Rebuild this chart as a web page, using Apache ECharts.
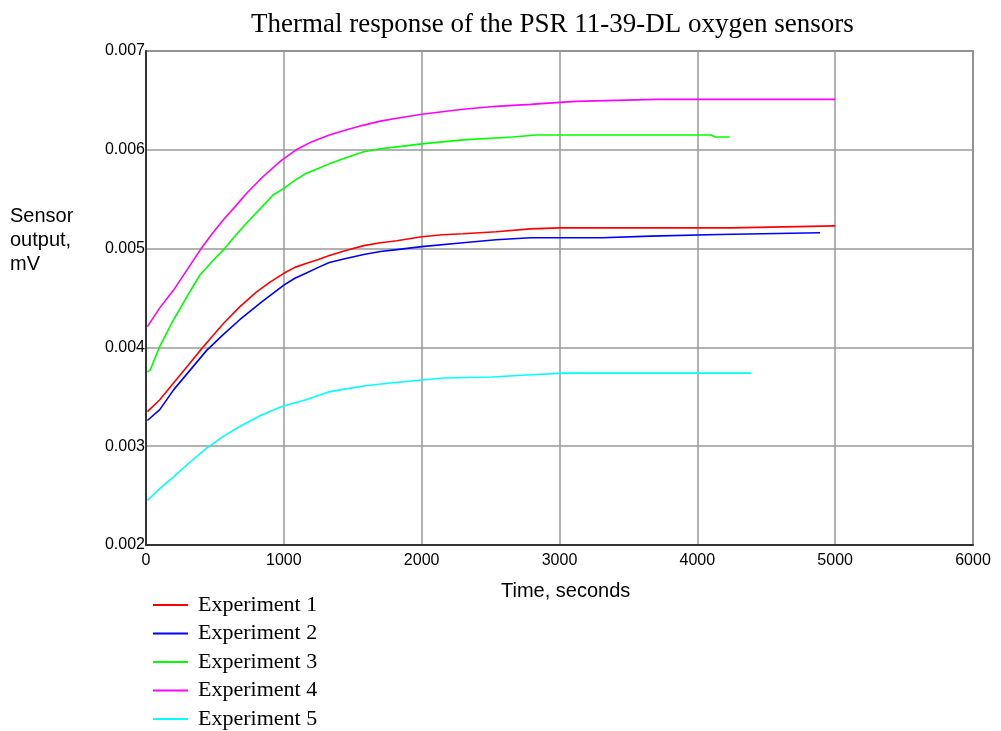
<!DOCTYPE html>
<html>
<head>
<meta charset="utf-8">
<script src="https://cdn.jsdelivr.net/npm/echarts@6/dist/echarts.min.js"></script>
<style>html,body{margin:0;padding:0;background:#fff;}#chart{width:1001px;height:731px;}</style>
</head>
<body>
<div id="chart"></div>
<script>
const titleText = 'Thermal response of the PSR 11-39-DL oxygen sensors';
const xTicks = [0, 1000, 2000, 3000, 4000, 5000, 6000];
const yTicks = [0.002, 0.003, 0.004, 0.005, 0.006, 0.007];
const seriesNames = ['Experiment 1', 'Experiment 2', 'Experiment 3', 'Experiment 4', 'Experiment 5'];
const seriesColors = ['#ff0000', '#0000ff', '#00ff00', '#ff00ff', '#00ffff'];

const exp1Time = [10, 100, 200, 300, 400, 480, 560, 680, 800, 900, 1000, 1080, 1160, 1250, 1330, 1450, 1580, 1700, 1820, 2000, 2150, 2300, 2540, 2790, 3000, 4250, 4260, 5000];
const exp1Value = [0.00335, 0.00347, 0.00364, 0.00381, 0.00398, 0.00411, 0.00424, 0.00441, 0.00456, 0.00466, 0.00475, 0.00481, 0.00485, 0.00489, 0.00493, 0.00498, 0.00503, 0.00506, 0.00508, 0.00512, 0.00514, 0.00515, 0.00517, 0.00520, 0.00521, 0.00521, 0.00523, 0.00523];

const exp2Time = [10, 100, 200, 320, 440, 560, 680, 840, 1000, 1080, 1160, 1250, 1330, 1450, 1580, 1700, 1820, 2000, 2300, 2540, 2790, 3310, 3320, 3660, 3670, 4155, 4165, 4890];
const exp2Value = [0.00326, 0.00337, 0.00357, 0.00377, 0.00397, 0.00413, 0.00428, 0.00446, 0.00463, 0.00470, 0.00475, 0.00481, 0.00486, 0.00490, 0.00494, 0.00497, 0.00499, 0.00502, 0.00506, 0.00509, 0.00511, 0.00511, 0.005126, 0.005126, 0.005143, 0.005143, 0.00516, 0.00516];

const exp3Time = [10, 30, 100, 200, 300, 390, 480, 570, 660, 750, 840, 920, 1000, 1080, 1160, 1250, 1330, 1450, 1580, 1700, 1820, 2000, 2300, 2660, 2830, 4100, 4130, 4235];
const exp3Value = [0.00375, 0.00377, 0.00401, 0.00428, 0.00452, 0.00473, 0.00487, 0.00500, 0.00515, 0.00529, 0.00542, 0.00554, 0.00561, 0.00569, 0.00576, 0.00581, 0.00586, 0.00592, 0.00598, 0.00601, 0.00603, 0.00606, 0.00610, 0.00613, 0.00615, 0.00615, 0.00613, 0.00613];

const exp4Time = [10, 100, 200, 300, 400, 480, 560, 650, 730, 850, 980, 1090, 1200, 1330, 1450, 1580, 1700, 1820, 2000, 2300, 2540, 2790, 3000, 3120, 3700, 5000];
const exp4Value = [0.00421, 0.00440, 0.00458, 0.00479, 0.00500, 0.00515, 0.00529, 0.00543, 0.00556, 0.00573, 0.00589, 0.00600, 0.00608, 0.00615, 0.00620, 0.00625, 0.00629, 0.00632, 0.00636, 0.00641, 0.00644, 0.00646, 0.00648, 0.00649, 0.00651, 0.00651];

const exp5Time = [10, 100, 200, 320, 440, 560, 680, 830, 980, 1160, 1330, 1450, 1580, 1770, 2000, 2160, 2510, 2760, 3030, 4390];
const exp5Value = [0.00245, 0.00257, 0.00269, 0.00284, 0.00298, 0.00310, 0.00320, 0.00331, 0.00340, 0.00347, 0.00355, 0.00358, 0.00361, 0.00364, 0.00367, 0.00369, 0.00370, 0.00372, 0.00374, 0.00374];

const times = [exp1Time, exp2Time, exp3Time, exp4Time, exp5Time];
const values = [exp1Value, exp2Value, exp3Value, exp4Value, exp5Value];

const chart = echarts.init(document.getElementById('chart'), null, {renderer: 'canvas'});
const series = seriesNames.map((name, i) => ({
  name: name,
  type: 'line',
  data: times[i].map((t, j) => [t, values[i][j]]),
  showSymbol: false,
  symbol: 'none',
  lineStyle: {color: seriesColors[i], width: 1.6},
  itemStyle: {color: seriesColors[i]},
  animation: false
}));

chart.setOption({
  animation: false,
  backgroundColor: '#ffffff',
  title: {
    text: titleText,
    left: 246,
    top: 6,
    textStyle: {fontFamily: 'Liberation Serif', fontWeight: 'normal', fontSize: 27, color: '#000'}
  },
  grid: {left: 146, right: 28, top: 51, bottom: 186, show: true, borderColor: '#555', borderWidth: 1.5, containLabel: false},
  legend: {
    orient: 'vertical',
    left: 148,
    top: 589,
    height: 160,
    icon: 'rect',
    itemWidth: 35,
    itemHeight: 2,
    itemGap: 6.5,
    textStyle: {fontFamily: 'Liberation Serif', fontSize: 22, color: '#000', padding: [0, 0, 0, 5]},
    data: seriesNames
  },
  xAxis: {
    type: 'value',
    min: xTicks[0],
    max: xTicks[xTicks.length - 1],
    interval: 1000,
    axisLine: {show: true, lineStyle: {color: '#333', width: 2}},
    axisTick: {show: false},
    axisLabel: {color: '#000', fontFamily: 'Liberation Sans', fontSize: 16, margin: 8, formatter: v => String(v)},
    splitLine: {show: true, lineStyle: {color: '#999', width: 1.5}}
  },
  yAxis: {
    type: 'value',
    min: yTicks[0],
    max: yTicks[yTicks.length - 1],
    interval: 0.001,
    axisLine: {show: true, lineStyle: {color: '#333', width: 2}},
    axisTick: {show: false},
    axisLabel: {color: '#000', fontFamily: 'Liberation Sans', fontSize: 16, margin: 1, formatter: v => v.toFixed(3)},
    splitLine: {show: true, lineStyle: {color: '#999', width: 1.5}}
  },
  graphic: [
    {type: 'text', left: 10, top: 204, style: {text: 'Sensor\noutput,\nmV', font: '20px "Liberation Sans"', lineHeight: 24, fill: '#000'}},
    {type: 'text', left: 501, top: 581, style: {text: 'Time, seconds', font: '20px "Liberation Sans"', fill: '#000'}}
  ],
  series: series
});
</script>
</body>
</html>
